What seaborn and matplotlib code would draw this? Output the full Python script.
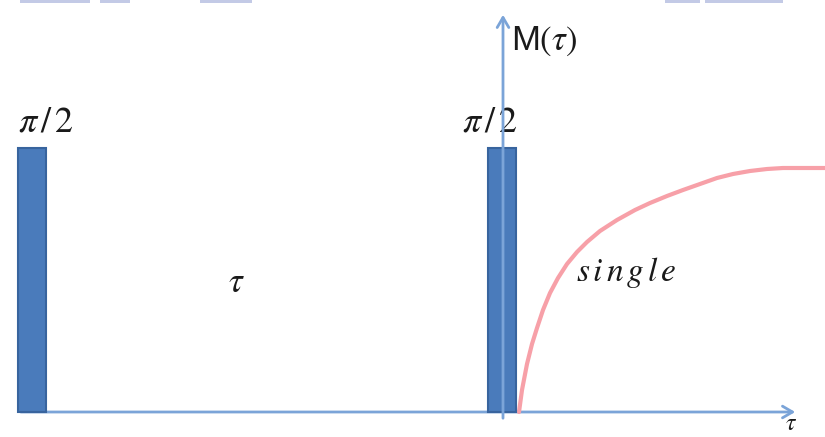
import matplotlib
matplotlib.use("Agg")
import matplotlib.pyplot as plt
import seaborn as sns
import pandas as pd
from matplotlib.patches import Rectangle

# ---- data ----
pulse_times = [32, 502]          # pulse centres along the time axis
pulse_amplitude = [264, 264]     # pulse heights
pulse_labels = [r"$\pi\,/\,2$", r"$\pi\,/\,2$"]

curve_tau = [519, 522, 527, 532, 537, 543, 550, 558, 567, 577, 587, 600,
             617, 635, 650, 667, 683, 700, 717, 733, 750, 767, 783, 800, 825]
curve_m = [0, 22, 48, 68, 84, 102, 119, 134, 148, 160, 170, 181,
           192, 202, 209, 216, 222, 228, 234, 238, 241, 243, 244, 244, 244]

sns.set_theme(style="white")
plt.rcParams["mathtext.fontset"] = "stix"
plt.rcParams["font.family"] = ["Liberation Sans", "DejaVu Sans"]

fig = plt.figure(figsize=(8.25, 4.37), dpi=100)
ax = fig.add_axes([0, 0, 1, 1])
ax.set_xlim(0, 825)
ax.set_ylim(-25, 412)
ax.axis("off")

# pulses
ax.bar(pulse_times, pulse_amplitude, width=28, color="#4a7bbb",
       edgecolor="#38649e", linewidth=1.5, zorder=3)
for t, a, lab in zip(pulse_times, pulse_amplitude, pulse_labels):
    ax.text(t + (14 if t < 100 else -12), a + 26, lab, fontsize=26,
            ha="center", va="center", color="#1a1a1a")

# recovery curve
df = pd.DataFrame({"tau": curve_tau, "M": curve_m})
sns.lineplot(data=df, x="tau", y="M", sort=False, color="#f7a0a8",
             linewidth=3, ax=ax, zorder=2)

axis_color = "#7ba4d8"
# horizontal time axis
ax.annotate("", xy=(798, 0), xytext=(18, 0),
            arrowprops=dict(arrowstyle="->,head_length=0.6,head_width=0.35",
                            color=axis_color, lw=2), zorder=1)
# vertical M axis
ax.annotate("", xy=(503, 400), xytext=(503, -9),
            arrowprops=dict(arrowstyle="->,head_length=0.6,head_width=0.35",
                            color=axis_color, lw=2), zorder=4)

ax.text(511, 371, r"M$(\tau)$", fontsize=25, ha="left", va="center",
        color="#1a1a1a")
ax.text(236, 130, r"$\tau$", fontsize=25, ha="center", va="center",
        color="#1a1a1a")
ax.text(626, 140, r"$s\,i\,n\,g\,l\,e$", fontsize=24, ha="center",
        va="center", color="#1a1a1a")
ax.text(791, -12, r"$\tau$", fontsize=17, ha="center", va="center",
        color="#1a1a1a")

# faint cropped shapes at the top edge
for x0, w in [(20, 70), (100, 30), (200, 52), (665, 35), (705, 78)]:
    ax.add_patch(Rectangle((x0, 409), w, 4, color="#b4bde0", lw=0,
                           alpha=0.8, clip_on=False))

fig.savefig("out.png", dpi=100)
